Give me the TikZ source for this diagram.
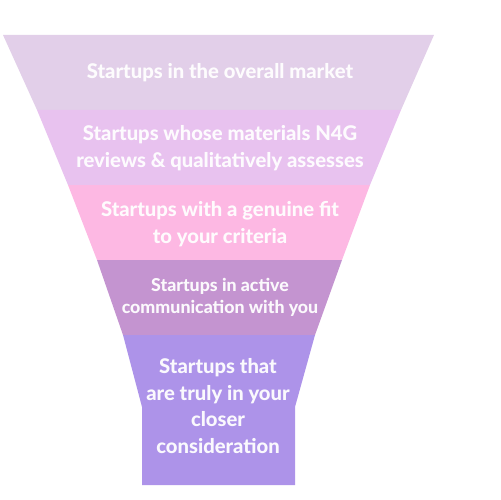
\documentclass[tikz,border=0pt]{standalone}
\usepackage{fontspec}
\setmainfont{Lato}[BoldFont={Lato Heavy}]
\definecolor{bandA}{HTML}{E2CFE9}
\definecolor{bandB}{HTML}{E8C2EF}
\definecolor{bandC}{HTML}{FDB8E3}
\definecolor{bandD}{HTML}{C494D0}
\definecolor{bandE}{HTML}{AD93E9}
\begin{document}
\begin{tikzpicture}[
    x=0.02cm, y=-0.02cm,
    bandtext/.style={text=white, text opacity=0.95, align=center, font=\bfseries\fontsize{11.5}{15.2}\selectfont},
    smalltext/.style={bandtext, font=\bfseries\fontsize{10.1}{12.6}\selectfont}
  ]
    \useasboundingbox (0,0) rectangle (500,500);

    % funnel bands
    \fill[bandA] (3,35) -- (434,35) -- (401,110) -- (37,110) -- cycle;
    \fill[bandB] (37,110) -- (401,110) -- (370,185) -- (68,185) -- cycle;
    \fill[bandC] (68,185) -- (370,185) -- (342,260) -- (97,260) -- cycle;
    \fill[bandD] (97,260) -- (342,260) -- (315,335) -- (123,335) -- cycle;
    \fill[bandE] (123,335) -- (315,335) -- (295,407) -- (295,485) -- (142,485) -- (142,407) -- cycle;

    \node[bandtext] (market) at (220,73) {Startups in the overall market};
    \node[bandtext] (reviewed) at (220,148) {Startups whose materials N4G\\reviews \& qualitatively assesses};
    \node[bandtext] (fit) at (220,224) {Startups with a genuine fit\\to your criteria};
    \node[smalltext] (contact) at (220,297) {Startups in active\\communication with you};
    \node[bandtext] (closer) at (218,406) {Startups that\\are truly in your\\closer\\consideration};
  \end{tikzpicture}
\end{document}
